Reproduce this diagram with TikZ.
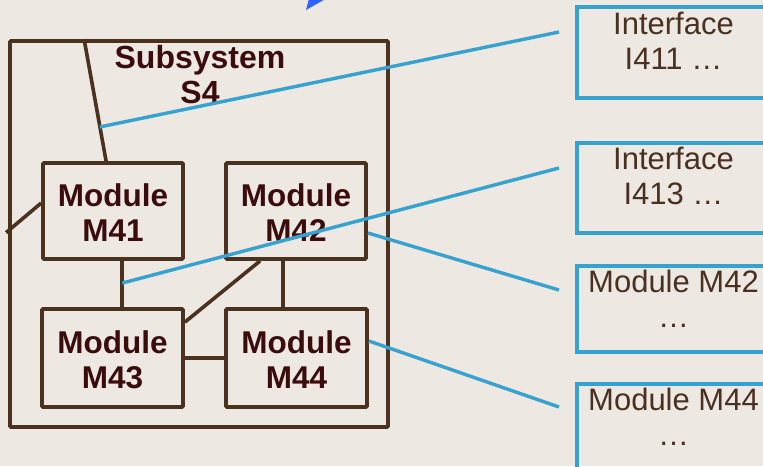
\documentclass[tikz,border=0pt]{standalone}
\usepackage{fontspec}
\setmainfont{Liberation Sans}
\usetikzlibrary{calc}
\definecolor{bg}{HTML}{EDE8E2}
\definecolor{brownline}{HTML}{4A321E}
\definecolor{darktext}{HTML}{3A0C0C}
\definecolor{notetext}{HTML}{4A3020}
\definecolor{linkblue}{HTML}{36A2D0}
\definecolor{arrowblue}{HTML}{2F62FF}

\begin{document}
\begin{tikzpicture}[x=1pt,y=-1pt,
  modbox/.style={draw=brownline, line width=3.8pt, rounded corners=1pt,
    minimum width=140pt, minimum height=96pt, inner sep=0pt,
    align=center, text=darktext, text height=61.5pt,
    font=\fontsize{31.5}{35}\selectfont\bfseries},
  notebox/.style={draw=linkblue, line width=4pt,
    minimum width=193pt, inner sep=0pt},
  notetxt/.style={anchor=north, inner sep=0pt, align=center,
    text=notetext, font=\fontsize{31}{35}\selectfont},
  wire/.style={draw=brownline, line width=3.6pt},
  link/.style={draw=linkblue, line width=3.4pt}]

% canvas
\fill[bg] (0,0) rectangle (763,466);
\clip (0,0) rectangle (763,466);

% cut-off arrow tip at the top edge
\fill[arrowblue] (306,10) -- (309.5,-3) -- (329,-3) -- cycle;

% subsystem frame and its title
\node[draw=brownline, line width=3.8pt, rounded corners=1pt,
  minimum width=378pt, minimum height=386pt] (sub) at (199,234) {};
\node[anchor=north, inner sep=0pt, align=center, text=darktext,
  font=\fontsize{32}{35}\selectfont\bfseries] (subtitle) at (200,45) {Subsystem\\S4};

% modules
\node[modbox] (m41) at (113,211) {Module\\M41};
\node[modbox] (m42) at (296,211) {Module\\M42};
\node[modbox, minimum width=141pt, minimum height=98pt] (m43) at (112.5,358) {Module\\M43};
\node[modbox, minimum width=141pt, minimum height=98pt] (m44) at (296.5,358) {Module\\M44};

% internal connections
\coordinate (topA) at ($(sub.north west)+(76,0)$);
\coordinate (topB) at ($(m41.north west)+(65,0)$);
\draw[wire] (topA) -- (topB);
\draw[wire] ($(sub.north west)+(-2,193.5)$) -- ($(m41.north west)+(0,42)$);
\coordinate (v1a) at ($(m41.south west)+(81,0)$);
\coordinate (v1b) at ($(m43.north west)+(82,0)$);
\draw[wire] (v1a) -- (v1b);
\draw[wire] ($(m42.south west)+(59,0)$) -- ($(m44.north west)+(59,0)$);
\draw[wire] ($(m42.south west)+(36,0)$) -- ($(m43.north east)+(0,15)$);
\draw[wire] (m43.east) -- (m44.west);

% description boxes
\node[notebox, minimum height=91pt] (i411) at (673.5,52.5) {};
\node[notetxt] (i411t) at ($(i411.north)+(0,6.5)$) {Interface\\I411 …};
\node[notebox, minimum height=90pt] (i413) at (673.5,188) {};
\node[notetxt] (i413t) at ($(i413.north)+(0,6)$) {Interface\\I413 …};
\node[notebox, minimum height=86pt] (m42r) at (673.5,309) {};
\node[notetxt] (m42rt) at ($(m42r.north)+(0,6)$) {Module M42\\…};
\node[notebox, minimum height=86pt] (m44r) at (673.5,427) {};
\node[notetxt] (m44rt) at ($(m44r.north)+(0,6)$) {Module M44\\…};

% links to the descriptions
\coordinate (e411) at ($(i411.west)+(-16,-20.5)$);
\coordinate (e413) at ($(i413.west)+(-16,-20)$);
\coordinate (e42) at ($(m42r.west)+(-16,-19)$);
\coordinate (e44) at ($(m44r.west)+(-16,-20)$);
\draw[link] ($(topA)!0.72!(topB)$) -- (e411);
\draw[link] ($(v1a)!0.48!(v1b)$) -- (e413);
\draw[link] ($(m42.east)+(0,22)$) -- (e42);
\draw[link] ($(m44.east)+(0,-17)$) -- (e44);
\end{tikzpicture}
\end{document}
